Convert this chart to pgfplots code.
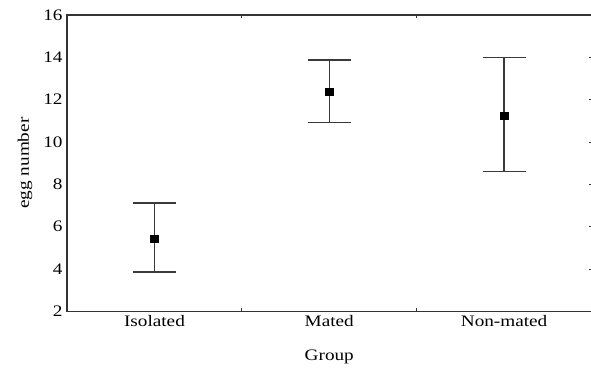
\documentclass[border=0pt]{standalone}
\usepackage{fontspec}
\setmainfont{Liberation Serif}[FakeStretch=1.2]
\usepackage{pgfplots}
\pgfplotsset{compat=1.18}
\definecolor{axisgray}{HTML}{333333}
\definecolor{bargray}{HTML}{3A3A3A}
\begin{document}
\begin{tikzpicture}
\begin{axis}[
  scale only axis,
  width=524pt, height=296pt,
  xmin=0.5, xmax=3.5,
  ymin=2, ymax=16,
  ytick={2,4,...,16},
  xtick={1.5,2.5},
  xticklabels={},
  extra x ticks={1,2,3},
  extra x tick labels={Isolated,Mated,Non-mated},
  extra x tick style={major tick length=0pt},
  ytick pos=right,
  yticklabel pos=left,
  tick align=inside,
  major tick length=3pt,
  tick style={color=axisgray, line width=0.8pt},
  axis line style={color=axisgray, line width=1.2pt},
  /pgf/number format/assume math mode=true,
  ticklabel style={font=\fontsize{16}{18}\selectfont, text=black},
  yticklabel style={xshift=-1pt},
  xticklabel style={yshift=-1pt},
  label style={font=\fontsize{16}{18}\selectfont},
  xlabel={Group},
  ylabel={egg number},
  xlabel style={yshift=-16pt},
  ylabel style={yshift=4pt},
  clip=false,
]
\addplot[
  only marks,
  mark=square*,
  mark size=3.8pt,
  mark options={fill=black, draw=black},
  error bars/.cd,
    y dir=both, y explicit,
    error bar style={color=bargray, line width=1.4pt},
    error mark options={rotate=90, mark size=21.5pt, color=bargray, line width=1.3pt},
] table[x=x, y=y, y error plus=ep, y error minus=em] {
x  y      ep    em
1  5.42   1.70  1.56
2  12.37  1.50  1.45
3  11.25  2.73  2.66
};
\end{axis}
\pgfresetboundingbox
\useasboundingbox (-67pt,-61pt) rectangle (523.5pt,311pt);
\end{tikzpicture}
\end{document}
